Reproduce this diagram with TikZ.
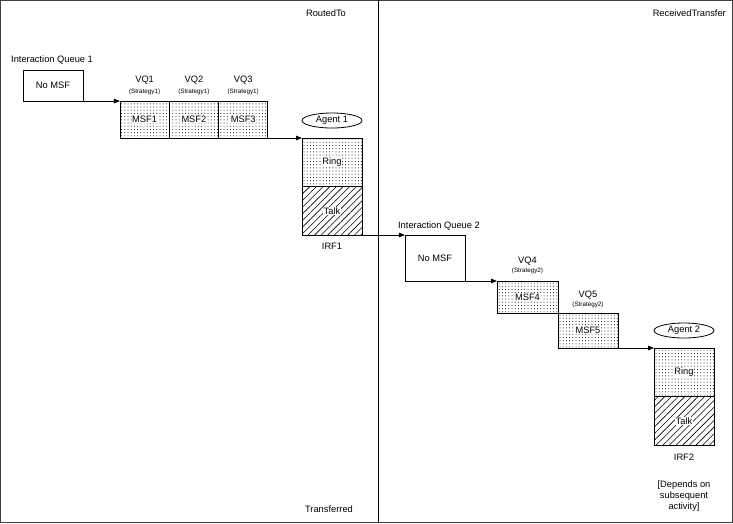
\documentclass[tikz,border=0pt]{standalone}
\usepackage{fontspec}
\setmainfont{Liberation Sans}
\usepackage{tikz}
\usetikzlibrary{shapes.geometric, arrows.meta, positioning, patterns.meta}

\begin{document}
\begin{tikzpicture}[x=1pt, y=-1pt,
    base/.style={font=\fontsize{9.3}{11}\selectfont, inner sep=0pt},
    small/.style={font=\fontsize{6.3}{7}\selectfont, inner sep=0pt},
    box/.style={draw, line width=0.8pt, outer sep=0pt, base, minimum width=60pt},
    tag/.style={base, fill=white, inner sep=0.6pt},
    msfbox/.style={box, pattern={Dots[distance=3.2pt, radius=0.5pt]}, label={[tag]center:#1}},
    ringbox/.style={box, minimum height=48.5pt, pattern={Dots[distance=3.2pt, radius=0.5pt]}, label={[tag]center:Ring}},
    talkbox/.style={box, minimum height=48.5pt, pattern={Lines[angle=45, distance=4.7pt, line width=0.6pt]}, label={[tag]center:Talk}},
    agent/.style={ellipse, draw, line width=0.8pt, base, minimum width=60pt, minimum height=15pt},
    edge/.style={-{Triangle[length=6pt, width=4.5pt]}, line width=0.8pt},
]
\useasboundingbox (0,0) rectangle (733,523);

% frame and lanes
\draw[line width=1.4pt, black!75] (0.7,0.7) rectangle (732.3,522.3);
\draw[line width=0.8pt] (378,0) -- (378,523);
\node[base] (routed) at (326,13) {RoutedTo};
\node[base, anchor=east] (received) at (726,13) {ReceivedTransfer};
\node[base] (transferred) at (329,509) {Transferred};

% first interaction
\node[base, anchor=west] (iq1) at (11,60.5) {Interaction Queue 1};
\node[box, minimum height=31pt] (nomsfA) at (53,85.5) {No MSF};

\node[msfbox=MSF1, minimum width=49.3pt, minimum height=37pt] (msf1) at (144.6,119.5) {};
\node[msfbox=MSF2, minimum width=49.3pt, minimum height=37pt] (msf2) at (193.9,119.5) {};
\node[msfbox=MSF3, minimum width=49.3pt, minimum height=37pt] (msf3) at (243.2,119.5) {};
\node[base] (vq1) at (144.6,80.5) {VQ1};
\node[base] (vq2) at (193.9,80.5) {VQ2};
\node[base] (vq3) at (243.2,80.5) {VQ3};
\node[small] (st1) at (144.6,91.5) {(Strategy1)};
\node[small] (st2) at (193.9,91.5) {(Strategy1)};
\node[small] (st3) at (243.2,91.5) {(Strategy1)};

\node[agent] (agentA) at (332,120.5) {Agent 1};
\node[ringbox] (ringA) at (332,162.25) {};
\node[talkbox] (talkA) at (332,210.75) {};
\node[base] (irf1) at (332,246) {IRF1};

% second interaction
\node[base] (iq2) at (439,226) {Interaction Queue 2};
\node[box, minimum height=46pt] (nomsfB) at (435,258) {No MSF};

\node[msfbox=MSF4, minimum width=61pt, minimum height=32pt] (msf4) at (527.5,297) {};
\node[base] (vq4) at (527.5,261) {VQ4};
\node[small] (st4) at (527.5,270.5) {(Strategy2)};
\node[msfbox=MSF5, minimum height=35pt] (msf5) at (588,330.5) {};
\node[base] (vq5) at (588,295) {VQ5};
\node[small] (st5) at (588,305) {(Strategy2)};

\node[agent] (agentB) at (684,330.5) {Agent 2};
\node[ringbox] (ringB) at (684,372.25) {};
\node[talkbox] (talkB) at (684,420.75) {};
\node[base] (irf2) at (684,457) {IRF2};
\node[base, align=center] (depends) at (684,496) {[Depends on\\subsequent\\activity]};

\draw[edge] (nomsfA.south east) -- (msf1.north west);
\draw[edge] (msf3.south east) -- (ringA.north west);
\draw[edge] (talkA.south east) -- (nomsfB.north west);
\draw[edge] (nomsfB.south east) -- (msf4.north west);
\draw[edge] (msf5.south east) -- (ringB.north west);

\end{tikzpicture}
\end{document}
